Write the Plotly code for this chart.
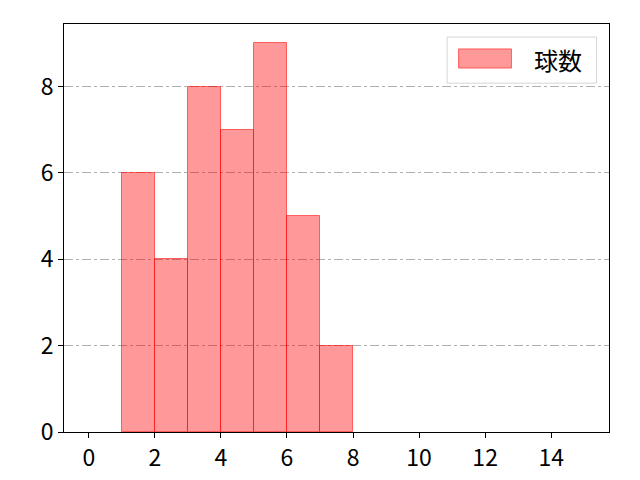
import plotly.graph_objects as go

# histogram of pitch counts: bin edges 0..15, one count per bin
bin_left = list(range(0, 15))
counts = [0, 6, 4, 8, 7, 9, 5, 2, 0, 0, 0, 0, 0, 0, 0]
series_name = "球数"

x_ticks = [0, 2, 4, 6, 8, 10, 12, 14]
y_ticks = [0, 2, 4, 6, 8]

FONT = "Noto Sans CJK JP"
FILL = "rgba(255,0,0,0.4)"
EDGE = "rgba(255,0,0,0.55)"

fig = go.Figure()
fig.add_trace(
    go.Bar(
        x=[b + 0.5 for b in bin_left],
        y=counts,
        width=1,
        name=series_name,
        marker=dict(
            color=FILL,
            # empty bins only leave a faint trace on the baseline
            line=dict(color=EDGE, width=[1 if c else 0 for c in counts]),
        ),
        showlegend=False,
    )
)

axis_common = dict(
    showline=True,
    linecolor="black",
    linewidth=1,
    mirror=True,
    ticks="outside",
    ticklen=5,
    tickcolor="black",
    tickfont=dict(family=FONT, size=23, color="black"),
    zeroline=False,
    layer="above traces",
)

fig.update_xaxes(
    range=[-0.75, 15.75],
    tickmode="array",
    tickvals=x_ticks,
    showgrid=False,
    **axis_common,
)
fig.update_yaxes(
    range=[0, 9.45],
    tickmode="array",
    tickvals=y_ticks,
    showgrid=True,
    gridcolor="#b0b0b0",
    gridwidth=1,
    griddash="dashdot",
    **axis_common,
)

# matplotlib-style legend box drawn in paper coordinates
fig.add_shape(
    type="rect", xref="paper", yref="paper",
    x0=0.703, x1=0.977, y0=0.855, y1=0.968,
    line=dict(color="#d6d6d6", width=1),
    fillcolor="rgba(255,255,255,0.8)",
)
fig.add_shape(
    type="rect", xref="paper", yref="paper",
    x0=0.724, x1=0.821, y0=0.892, y1=0.939,
    line=dict(color=EDGE, width=1),
    fillcolor=FILL,
)
fig.add_annotation(
    xref="paper", yref="paper", x=0.859, y=0.913,
    xanchor="left", yanchor="middle", showarrow=False,
    text=series_name,
    font=dict(family=FONT, size=24, color="black"),
)

# the page body has an 8px margin, so shift the plot area back by that amount
fig.update_layout(
    width=640,
    height=480,
    margin=dict(l=56, r=39, t=16, b=56, autoexpand=False),
    paper_bgcolor="white",
    plot_bgcolor="white",
    bargap=0,
    showlegend=False,
)

fig.write_html("out.html")
